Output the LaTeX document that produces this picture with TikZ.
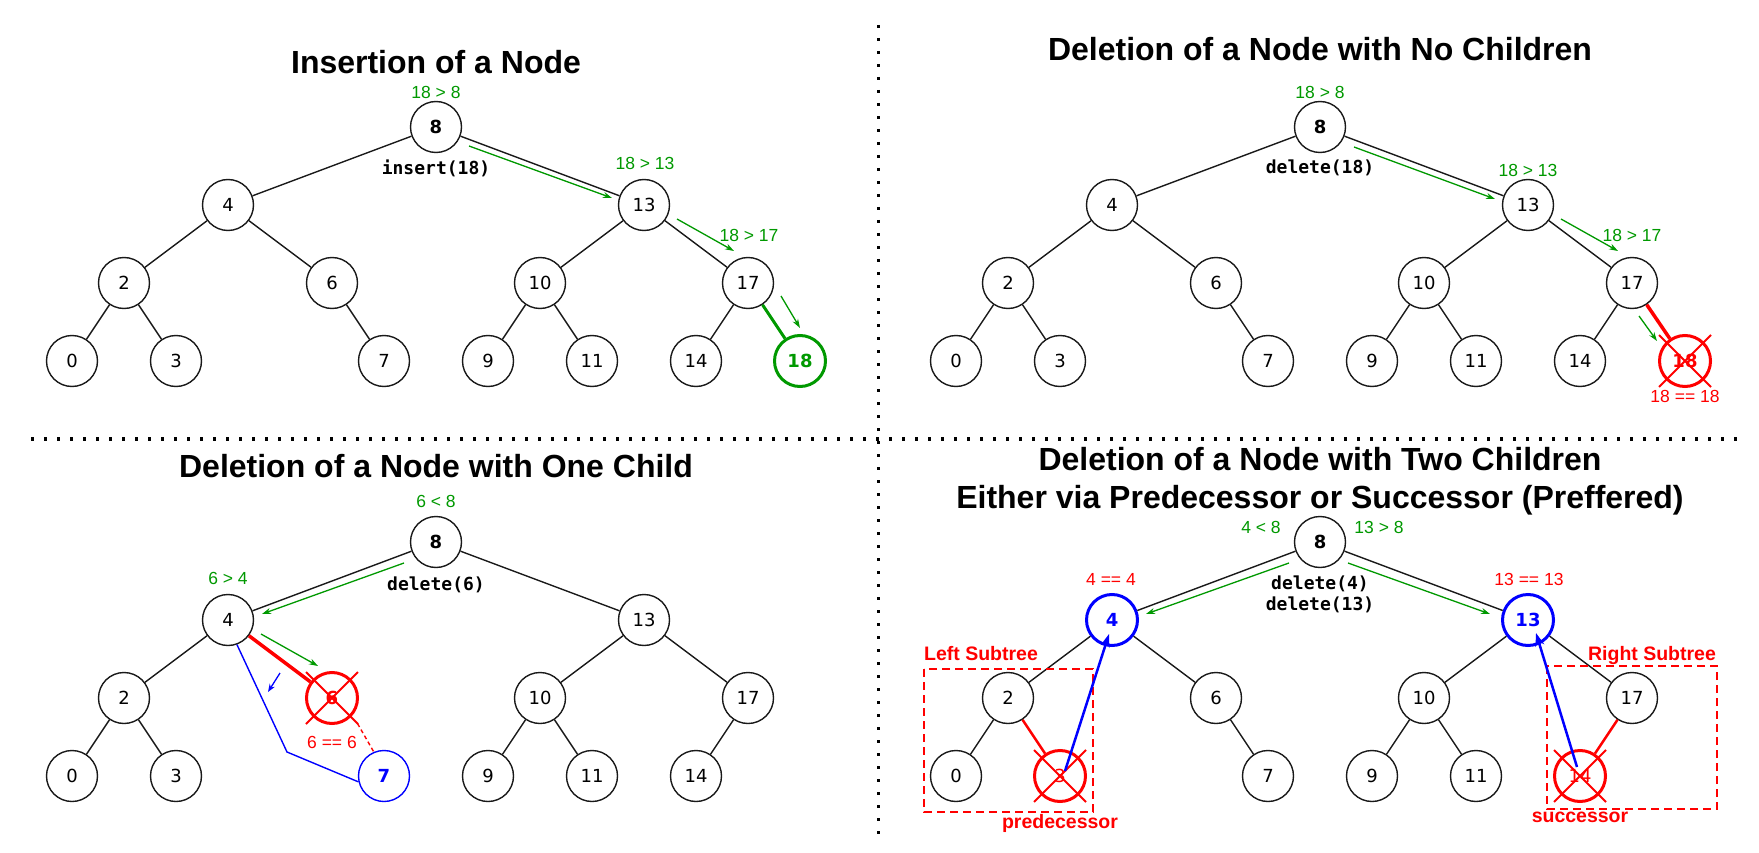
\documentclass[tikz,border=0pt]{standalone}
\usepackage{fontspec}
\setmainfont{Liberation Sans}
\newfontfamily\nodefont{DejaVu Sans}
\newfontfamily\codefont{DejaVu Sans Mono}
\usetikzlibrary{arrows.meta,calc}
\definecolor{gr}{RGB}{0,153,0}
\definecolor{rd}{RGB}{255,0,0}
\definecolor{bl}{RGB}{0,0,255}
\definecolor{ink}{RGB}{25,25,25}
\newcommand{\nf}{\nodefont\fontsize{18}{18}\selectfont}
\newcommand{\nbf}{\nodefont\bfseries\fontsize{18}{18}\selectfont}
\newcommand{\xcross}[1]{\draw[xline] ($(#1)+(-26,-26)$) -- ($(#1)+(26,26)$) ($(#1)+(26,-26)$) -- ($(#1)+(-26,26)$);}
\tikzset{
 tn/.style={circle, draw=ink, line width=1.4pt, minimum size=51pt, inner sep=0pt, font=\nf, text=black},
 rootn/.style={tn, font=\nbf},
 greenn/.style={tn, draw=gr, line width=3pt, text=gr, font=\nbf},
 deln/.style={tn, draw=rd, line width=3pt, text=rd},
 delbn/.style={deln, font=\nbf},
 bluen/.style={tn, draw=bl, line width=3pt, text=bl, font=\nbf},
 bluethin/.style={tn, draw=bl, line width=1.4pt, text=bl, font=\nbf},
 edge/.style={draw=ink, line width=1.4pt},
 gedge/.style={draw=gr, line width=3pt},
 redge/.style={draw=rd, line width=3.5pt},
 redgem/.style={draw=rd, line width=2.5pt},
 xline/.style={draw=rd, line width=2pt},
 garrow/.style={draw=gr, line width=1.3pt, -{Stealth[length=9pt,width=6pt]}},
 barrow/.style={draw=bl, line width=2.5pt, -{Stealth[length=13pt,width=9pt]}},
 bthinarrow/.style={draw=bl, line width=1.3pt, -{Stealth[length=8pt,width=6pt]}},
 blueline/.style={draw=bl, line width=1.4pt},
 rdash/.style={draw=rd, line width=1.4pt, dash pattern=on 4pt off 3pt},
 title/.style={font={\bfseries\fontsize{32}{38}\selectfont}, anchor=base, inner sep=0pt},
 glabel/.style={text=gr, font={\fontsize{17.5}{20}\selectfont}, inner sep=0pt},
 rlabel/.style={text=rd, font={\fontsize{17.5}{20}\selectfont}, inner sep=0pt},
 code/.style={font={\codefont\bfseries\fontsize{18}{21}\selectfont}, inner sep=0pt},
 sublabel/.style={text=rd, font={\bfseries\fontsize{19.5}{22}\selectfont}, anchor=base, inner sep=0pt},
 divider/.style={draw=black, line width=3.3pt, dash pattern=on 3.3pt off 9.7pt},
 subbox/.style={draw=rd, line width=2pt, dash pattern=on 8pt off 5pt},
}
\begin{document}
\begin{tikzpicture}[x=1pt,y=-1pt]
\fill[white] (0,0) rectangle (1759,853);
\useasboundingbox (0,0) rectangle (1759,853);

% dividers
\coordinate (vtop) at (878.7,25);
\coordinate (vbot) at (878.7,840);
\coordinate (hl) at (31,439);
\coordinate (hr) at (1738,439);
\draw[divider] (vtop) -- (vbot);
\draw[divider] (hl) -- (hr);

% ================= Q1 =================
\node[title] (t1) at (436,74) {Insertion of a Node};
\node[rootn] (a8) at (436,127) {8};
\node[tn] (a4) at (228,205) {4};
\node[tn] (a13) at (644,205) {13};
\node[tn] (a2) at (124,283) {2};
\node[tn] (a6) at (332,283) {6};
\node[tn] (a10) at (540,283) {10};
\node[tn] (a17) at (748,283) {17};
\node[tn] (a0) at (72,361) {0};
\node[tn] (a3) at (176,361) {3};
\node[tn] (a7) at (384,361) {7};
\node[tn] (a9) at (488,361) {9};
\node[tn] (a11) at (592,361) {11};
\node[tn] (a14) at (696,361) {14};
\node[greenn] (a18) at (800,361) {18};
\draw[edge] (a8) -- (a4);
\draw[edge] (a8) -- (a13);
\draw[edge] (a4) -- (a2);
\draw[edge] (a4) -- (a6);
\draw[edge] (a2) -- (a0);
\draw[edge] (a2) -- (a3);
\draw[edge] (a6) -- (a7);
\draw[edge] (a13) -- (a10);
\draw[edge] (a13) -- (a17);
\draw[edge] (a10) -- (a9);
\draw[edge] (a10) -- (a11);
\draw[edge] (a17) -- (a14);
\draw[gedge] (a17) -- (a18);
\node[glabel] (a8l) at (436,92) {18 > 8};
\node[glabel] (a13l) at (645,163) {18 > 13};
\node[glabel] (a17l) at (749,235) {18 > 17};
\node[code] (acode) at (436,168) {insert(18)};
\draw[garrow] ($(a8)+(33,19)$) -- ($(a13)+(-32,-7)$);
\draw[garrow] ($(a13)+(33,14)$) -- ($(a17)+(-14,-32)$);
\draw[garrow] ($(a17)+(33,13)$) -- ($(a18)+(0,-33)$);

% ================= Q2 =================
\node[title] (t2) at (1320,61) {Deletion of a Node with No Children};
\node[rootn] (b8) at (1320,127) {8};
\node[tn] (b4) at (1112,205) {4};
\node[tn] (b13) at (1528,205) {13};
\node[tn] (b2) at (1008,283) {2};
\node[tn] (b6) at (1216,283) {6};
\node[tn] (b10) at (1424,283) {10};
\node[tn] (b17) at (1632,283) {17};
\node[tn] (b0) at (956,361) {0};
\node[tn] (b3) at (1060,361) {3};
\node[tn] (b7) at (1268,361) {7};
\node[tn] (b9) at (1372,361) {9};
\node[tn] (b11) at (1476,361) {11};
\node[tn] (b14) at (1580,361) {14};
\node[delbn] (b18) at (1685,361) {18};
\draw[edge] (b8) -- (b4);
\draw[edge] (b8) -- (b13);
\draw[edge] (b4) -- (b2);
\draw[edge] (b4) -- (b6);
\draw[edge] (b2) -- (b0);
\draw[edge] (b2) -- (b3);
\draw[edge] (b6) -- (b7);
\draw[edge] (b13) -- (b10);
\draw[edge] (b13) -- (b17);
\draw[edge] (b10) -- (b9);
\draw[edge] (b10) -- (b11);
\draw[edge] (b17) -- (b14);
\draw[redge] (b17) -- (b18);
\xcross{b18}
\node[glabel] (b8l) at (1320,92) {18 > 8};
\node[glabel] (b13l) at (1528,170) {18 > 13};
\node[glabel] (b17l) at (1632,235) {18 > 17};
\node[rlabel] (b18l) at (1685,396) {18 == 18};
\node[code] (bcode) at (1320,168) {delete(18)};
\draw[garrow] ($(b8)+(34,20)$) -- ($(b13)+(-33,-6)$);
\draw[garrow] ($(b13)+(33,14)$) -- ($(b17)+(-14,-32)$);
\draw[garrow] ($(b17)+(7,33)$) -- ($(b18)+(-28,-20)$);

% ================= Q3 =================
\node[title] (t3) at (436,477) {Deletion of a Node with One Child};
\node[rootn] (c8) at (436,542) {8};
\node[tn] (c4) at (228,620) {4};
\node[tn] (c13) at (644,620) {13};
\node[tn] (c2) at (124,698) {2};
\node[delbn] (c6) at (332,698) {6};
\node[tn] (c10) at (540,698) {10};
\node[tn] (c17) at (748,698) {17};
\node[tn] (c0) at (72,776) {0};
\node[tn] (c3) at (176,776) {3};
\node[bluethin] (c7) at (384,776) {7};
\node[tn] (c9) at (488,776) {9};
\node[tn] (c11) at (592,776) {11};
\node[tn] (c14) at (696,776) {14};
\draw[edge] (c8) -- (c4);
\draw[edge] (c8) -- (c13);
\draw[edge] (c4) -- (c2);
\draw[redge] (c4) -- (c6);
\draw[edge] (c2) -- (c0);
\draw[edge] (c2) -- (c3);
\draw[edge] (c13) -- (c10);
\draw[edge] (c13) -- (c17);
\draw[edge] (c10) -- (c9);
\draw[edge] (c10) -- (c11);
\draw[edge] (c17) -- (c14);
\xcross{c6}
\coordinate (cxe) at ($(c6)+(25.5,25.5)$);
\draw[rdash] (cxe) -- (c7.113);
\coordinate (cmid) at ($(c7)+(-97,-24)$);
\draw[blueline] (c4.-70) -- (cmid) -- (c7.193);
\draw[bthinarrow] ($(c4)+(52,53)$) -- ($(c4)+(40,72)$);
\node[glabel] (c8l) at (436,501) {6 < 8};
\node[glabel] (c4l) at (228,578) {6 > 4};
\node[rlabel] (c6l) at (332,742) {6 == 6};
\node[code] (ccode) at (436,585) {delete(6)};
\draw[garrow] ($(c8)+(-32,21)$) -- ($(c4)+(34,-6)$);
\draw[garrow] ($(c4)+(33,14)$) -- ($(c6)+(-14,-32)$);

% ================= Q4 =================
\node[title] (t4a) at (1320,470) {Deletion of a Node with Two Children};
\node[title] (t4b) at (1320,508) {Either via Predecessor or Successor (Preffered)};
\node[rootn] (d8) at (1320,542) {8};
\node[bluen] (d4) at (1112,620) {4};
\node[bluen] (d13) at (1528,620) {13};
\node[tn] (d2) at (1008,698) {2};
\node[tn] (d6) at (1216,698) {6};
\node[tn] (d10) at (1424,698) {10};
\node[tn] (d17) at (1632,698) {17};
\node[tn] (d0) at (956,776) {0};
\node[deln] (d3) at (1060,776) {3};
\node[tn] (d7) at (1268,776) {7};
\node[tn] (d9) at (1372,776) {9};
\node[tn] (d11) at (1476,776) {11};
\node[deln] (d14) at (1580,776) {14};
\draw[edge] (d8) -- (d4);
\draw[edge] (d8) -- (d13);
\draw[edge] (d4) -- (d2);
\draw[edge] (d4) -- (d6);
\draw[edge] (d2) -- (d0);
\draw[redgem] (d2) -- (d3);
\draw[edge] (d6) -- (d7);
\draw[edge] (d13) -- (d10);
\draw[edge] (d13) -- (d17);
\draw[edge] (d10) -- (d9);
\draw[edge] (d10) -- (d11);
\draw[redgem] (d17) -- (d14);
\xcross{d3}
\xcross{d14}
\coordinate (lbox1) at (924,669);
\coordinate (lbox2) at (1093,812);
\coordinate (rbox1) at (1547,666);
\coordinate (rbox2) at (1717,809);
\draw[subbox] (lbox1) rectangle (lbox2);
\draw[subbox] (rbox1) rectangle (rbox2);
\node[glabel] (d8la) at (1261,527) {4 < 8};
\node[glabel] (d8lb) at (1379,527) {13 > 8};
\node[rlabel] (d4l) at (1111,579) {4 == 4};
\node[rlabel] (d13l) at (1529,579) {13 == 13};
\node[code] (dcode1) at (1320,584) {delete(4)};
\node[code] (dcode2) at (1320,605) {delete(13)};
\node[sublabel] (lsub) at (981,660) {Left Subtree};
\node[sublabel] (rsub) at (1652,660) {Right Subtree};
\node[sublabel] (pred) at (1060,828) {predecessor};
\node[sublabel] (succ) at (1580,822) {successor};
\draw[garrow] ($(d8)+(-31,21)$) -- ($(d4)+(34,-6)$);
\draw[garrow] ($(d8)+(28,21)$) -- ($(d13)+(-38,-6)$);
\draw[barrow] ($(d3)+(5,-5)$) -- ($(d4)+(-3,14)$);
\draw[barrow] ($(d14)+(-3,-9)$) -- ($(d13)+(8,13)$);
\end{tikzpicture}
\end{document}
